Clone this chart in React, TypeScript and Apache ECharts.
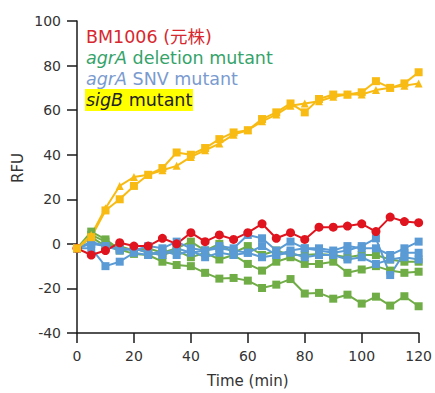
import React, { useEffect, useRef } from "react";
import * as echarts from "echarts";

const time = [0, 5, 10, 15, 20, 25, 30, 35, 40, 45, 50, 55, 60, 65, 70, 75, 80, 85, 90, 95, 100, 105, 110, 115, 120];
const xTicks = [0, 20, 40, 60, 80, 100, 120];
const yTicks = [-40, -20, 0, 20, 40, 60, 80, 100];

const bm1006 = [-2, -5, -3, 0.5, -1, -1, 2.5, 0, 5, 1, 4, 2, 5, 9, 2.5, 5, 2, 7.5, 7.5, 8, 9, 5.5, 12, 10, 9.5];
const greenA = [-2, 5.5, 2, -2.5, -4.5, -5, -8, -9.5, -10, -13, -15.6, -15.3, -16.5, -19.8, -18.3, -15.8, -22.3, -22, -24.6, -22.8, -26.8, -23.7, -27.7, -23.5, -28];
const greenB = [-2, 4, 1, -3, -2, -4, -5, -3, -6, -4, -7, -5, -9, -12, -8, -6, -9, -9, -8, -13, -11.5, -10, -12, -13, -12.5];
const greenC = [-2, 3, -1, -1, -3, -2, -4, -2, 1, -3, 0, -4, -1, -5, -3, -5, -5, -4.5, -5, -6, -5, -5, -7, -8, -8];
const blueA = [-2, 1, -1, -2, -3, -1, -2, 1, -2, -3, -1, -2, 4, 2.5, -3, 1, -2, -3, -4, -3, -1, 2.5, -14, -4, -4];
const blueB = [-2, 0, -1, -3, -2, -4, -5, -2, -4, -3, -2, -3, -4, -1, -5, -3, -2, -2, -3, -1, -2, -2, -5, -2, 1];
const blueC = [-2, -2, -10, -8, -4, -5, -3, -5, -3, -6, -4, -5, -4, -6, -5, -4, -6, -5, -5, -7, -6, -9, -7, -6, -7];
const sigB1 = [-2, 3, 15, 20, 26, 31, 34, 41, 40, 43, 47, 50, 51, 56, 59, 63, 59, 65, 67, 67, 68, 73, 70, 72, 77];
const sigB2 = [-2, 4, 16, 26, 30, 31, 33, 35, 39, 42, 45, 49, 51, 55, 58, 62, 63, 64, 66, 67, 67, 69, 70, 71, 72];

const RED = "#e0141e";
const GREEN = "#70ad47";
const BLUE = "#5b9bd5";
const YELLOW = "#f8bb14";
const FONT = "'DejaVu Sans', 'Noto Sans CJK JP', sans-serif";
const LEG = 17.5;

function mk(name: string, data: number[], color: string, symbol: string, size: number) {
  return {
    name,
    type: "line",
    data: time.map((t, i) => [t, data[i]]),
    symbol,
    symbolSize: size,
    lineStyle: { color, width: 2 },
    itemStyle: { color },
    showSymbol: true,
  };
}

export default function App() {
  const ref = useRef<HTMLDivElement>(null);
  useEffect(() => {
    const chart = echarts.init(ref.current!, null, { renderer: "svg" });
    const axisCommon = {
      axisLine: { show: true, onZero: false, lineStyle: { color: "#1a1a1a", width: 1.5 } },
      axisTick: { show: true, inside: false, length: 10, lineStyle: { color: "#1a1a1a", width: 1.5 } },
      splitLine: { show: false },
    };
    chart.setOption({
      animation: false,
      backgroundColor: "#ffffff",
      grid: { left: 77, right: 14, top: 21, bottom: 57 },
      xAxis: {
        type: "value",
        min: 0,
        max: 120,
        interval: 20,
        ...axisCommon,
        axisLabel: { margin: 16, fontSize: 14, fontFamily: FONT, color: "#333", customValues: xTicks },
        name: "Time (min)",
        nameLocation: "middle",
        nameGap: 40,
        nameTextStyle: { fontSize: 15, fontFamily: FONT, color: "#333" },
      },
      yAxis: {
        type: "value",
        min: -40,
        max: 100,
        interval: 20,
        ...axisCommon,
        axisLabel: { margin: 16, fontSize: 14, fontFamily: FONT, color: "#333", customValues: yTicks },
      },
      series: [
        mk("agrA deletion mutant 1", greenA, GREEN, "rect", 8),
        mk("agrA deletion mutant 2", greenB, GREEN, "rect", 8),
        mk("agrA deletion mutant 3", greenC, GREEN, "rect", 8),
        mk("agrA SNV mutant 1", blueA, BLUE, "rect", 8),
        mk("agrA SNV mutant 2", blueB, BLUE, "rect", 8),
        mk("agrA SNV mutant 3", blueC, BLUE, "rect", 8),
        mk("BM1006 (元株)", bm1006, RED, "circle", 9),
        mk("sigB mutant 1", sigB1, YELLOW, "rect", 8),
        mk("sigB mutant 2", sigB2, YELLOW, "triangle", 8),
      ],
      graphic: [
        {
          type: "text",
          x: 18,
          y: 168,
          rotation: Math.PI / 2,
          style: { text: "RFU", fontSize: 15, fontFamily: FONT, fill: "#333", align: "center", verticalAlign: "middle" },
        },
        { type: "rect", shape: { x: 85, y: 89, width: 108, height: 22 }, style: { fill: "#ffff00" } },
        {
          type: "text",
          x: 86,
          y: 37,
          style: { text: "BM1006 (元株)", fontSize: LEG, fontFamily: FONT, fill: "#d7282f", verticalAlign: "middle" },
        },
        {
          type: "text",
          x: 86,
          y: 58,
          style: {
            text: "{i|agrA} deletion mutant",
            fontSize: LEG,
            fontFamily: FONT,
            fill: "#35a36a",
            verticalAlign: "middle",
            rich: { i: { fontStyle: "italic", fontSize: LEG, fontFamily: FONT, fill: "#35a36a" } },
          },
        },
        {
          type: "text",
          x: 86,
          y: 79,
          style: {
            text: "{i|agrA} SNV mutant",
            fontSize: LEG,
            fontFamily: FONT,
            fill: "#7a9bcf",
            verticalAlign: "middle",
            rich: { i: { fontStyle: "italic", fontSize: LEG, fontFamily: FONT, fill: "#7a9bcf" } },
          },
        },
        {
          type: "text",
          x: 86,
          y: 100,
          style: {
            text: "{i|sigB} mutant",
            fontSize: LEG,
            fontFamily: FONT,
            fill: "#222",
            verticalAlign: "middle",
            rich: { i: { fontStyle: "italic", fontSize: LEG, fontFamily: FONT, fill: "#222" } },
          },
        },
      ],
    });
    return () => chart.dispose();
  }, []);
  return <div ref={ref} style={{ width: 435, height: 393, position: "absolute", left: 0, top: 0 }} />;
}
